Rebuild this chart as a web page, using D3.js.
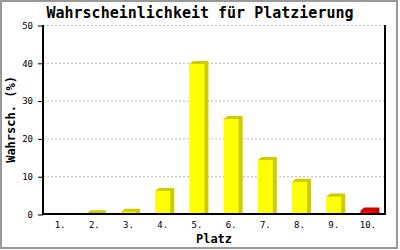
<!DOCTYPE html>
<meta charset="utf-8">
<style type="text/css">
body {
  margin: 0;
  background: #fff;
}

svg text {
  font-family: "DejaVu Sans Mono", "Liberation Mono", monospace;
}

.title {
  font-size: 15px;
  font-weight: bold;
}

.label {
  font-size: 12px;
  font-weight: bold;
}

.tick-label {
  font-size: 9px;
}

.grid {
  stroke: #bbb;
  stroke-width: 1px;
  stroke-dasharray: 2,2;
}
</style>
<body>
<script src="https://cdn.jsdelivr.net/npm/d3@7"></script>
<script>
var places = ["1.", "2.", "3.", "4.", "5.", "6.", "7.", "8.", "9.", "10."];
var probs = [0, 0.2, 0.6, 6.1, 39.7, 25.1, 14.3, 8.5, 4.6, 0.9];
var highlight = ["10."];
var yTicks = [0, 10, 20, 30, 40, 50];

var width = 400;
var height = 250;
var plot = { left: 43, right: 385, top: 25, bottom: 214 };
var depthX = 4, depthY = 3;

var svg = d3.select("body")
  .append("svg")
    .attr("width", width)
    .attr("height", height);

// outer frame
svg.append("rect")
  .attr("x", 1)
  .attr("y", 1)
  .attr("width", 396)
  .attr("height", 247)
  .style("fill", "#fff")
  .style("stroke", "#999")
  .style("stroke-width", 2);

var xscale = d3.scaleBand()
  .domain(places)
  .range([plot.left, plot.right])
  .paddingInner(0.56)
  .paddingOuter(0.28);

var yscale = d3.scaleLinear()
  .domain([0, 50])
  .range([plot.bottom, plot.top]);

// gridlines
svg.selectAll("line.grid")
  .data(yTicks.filter(function(d) { return d > 0; }))
  .enter().append("line")
    .attr("class", "grid")
    .attr("x1", plot.left)
    .attr("x2", plot.right)
    .attr("y1", function(d) { return yscale(d) + 0.5; })
    .attr("y2", function(d) { return yscale(d) + 0.5; });

// bars with a simple 3d side (nothing drawn for empty places)
var bar = svg.selectAll("g.bar")
  .data(places.filter(function(d, i) { return probs[i] > 0; }))
  .enter().append("g")
    .attr("class", "bar");

function val(d) { return probs[places.indexOf(d)]; }

bar.append("polygon")
  .attr("points", function(d) {
    var x = xscale(d), w = xscale.bandwidth(), y = yscale(val(d));
    return [
      [x, y],
      [x + depthX, y - depthY],
      [x + w + depthX, y - depthY],
      [x + w + depthX, plot.bottom],
      [x + w, plot.bottom]
    ].join(" ");
  })
  .style("fill", function(d) { return highlight.indexOf(d) > -1 ? "#cc0000" : "#cccc00"; });

bar.append("rect")
  .attr("x", function(d) { return xscale(d); })
  .attr("y", function(d) { return yscale(val(d)); })
  .attr("width", xscale.bandwidth())
  .attr("height", function(d) { return plot.bottom - yscale(val(d)); })
  .style("fill", function(d) { return highlight.indexOf(d) > -1 ? "#ff0000" : "#ffff00"; });

// axes
var yAxis = d3.axisLeft(yscale)
  .tickValues(yTicks)
  .tickSize(5)
  .tickPadding(5);

var gy = svg.append("g")
  .attr("transform", "translate(" + plot.left + ",0.5)")
  .call(yAxis);
gy.select(".domain").remove();
gy.selectAll("line").style("stroke", "#000");
gy.selectAll("text").attr("class", "tick-label").attr("font-family", null).attr("font-size", null);

var xAxis = d3.axisBottom(xscale)
  .tickSize(0)
  .tickPadding(8);

var gx = svg.append("g")
  .attr("transform", "translate(0," + plot.bottom + ")")
  .call(xAxis);
gx.select(".domain").remove();
gx.selectAll("text").attr("class", "tick-label").attr("font-family", null).attr("font-size", null);

svg.append("path")
  .attr("d", "M" + plot.left + "," + plot.top + "V" + plot.bottom + "H" + plot.right + "V" + plot.top)
  .style("fill", "none")
  .style("stroke", "#000")
  .style("stroke-width", 2);

// texts
svg.append("text")
  .attr("class", "title")
  .attr("x", 200)
  .attr("y", 18)
  .attr("text-anchor", "middle")
  .text("Wahrscheinlichkeit für Platzierung");

svg.append("text")
  .attr("class", "label")
  .attr("x", (plot.left + plot.right) / 2)
  .attr("y", 243)
  .attr("text-anchor", "middle")
  .text("Platz");

svg.append("text")
  .attr("class", "label")
  .attr("transform", "translate(15," + (plot.top + plot.bottom) / 2 + ") rotate(-90)")
  .attr("text-anchor", "middle")
  .text("Wahrsch. (%)");
</script>
</body>
